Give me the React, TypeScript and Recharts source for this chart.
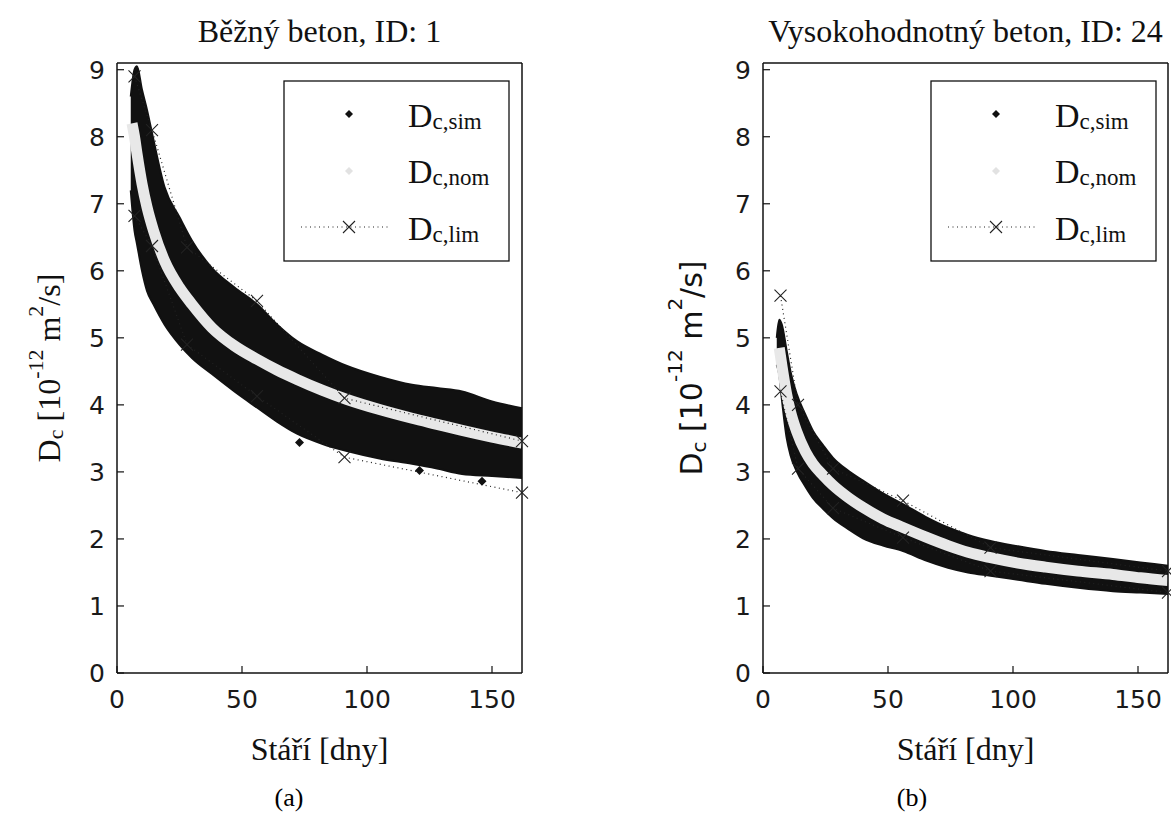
import React from "react";
import { ComposedChart, Area, Line, Scatter, XAxis, YAxis } from "recharts";

// shared axis setup
const xTicks = [0, 50, 100, 150];
const yTicks = [0, 1, 2, 3, 4, 5, 6, 7, 8, 9];
const limDays = [7, 14, 28, 56, 91, 162];

// (a) Běžný beton, ID: 1 — envelope of the simulated cloud, nominal curve, limits
const simDaysA = [5.5, 7, 8, 10, 12, 14.6, 19, 25, 30, 38, 47, 56, 64, 72, 82, 92, 105, 118, 128, 138, 150, 162];
const simHighA = [8.6, 9.0, 9.05, 8.7, 8.4, 7.95, 7.25, 6.8, 6.45, 6.04, 5.75, 5.5, 5.2, 4.95, 4.75, 4.58, 4.42, 4.3, 4.25, 4.2, 4.05, 3.95];
const simLowA = [7.2, 6.6, 6.4, 6.0, 5.7, 5.5, 5.2, 4.9, 4.7, 4.46, 4.2, 3.96, 3.75, 3.57, 3.42, 3.31, 3.2, 3.12, 3.05, 2.97, 2.94, 2.91];
const nomDaysA = [6, 7, 8, 10, 12, 14.6, 19, 25, 30, 38, 47, 56, 64, 72, 82, 92, 105, 118, 128, 138, 150, 162];
const nomA = [8.2, 8.0, 7.75, 7.3, 6.95, 6.6, 6.15, 5.75, 5.5, 5.15, 4.88, 4.68, 4.52, 4.38, 4.22, 4.08, 3.93, 3.8, 3.71, 3.62, 3.52, 3.43];
const limHighA = [8.9, 8.1, 6.35, 5.55, 4.1, 3.46];
const limLowA = [6.82, 6.37, 4.9, 4.13, 3.22, 2.69];
const outDaysA = [73, 121, 146];
const outValsA = [3.44, 3.02, 2.86];

// (b) Vysokohodnotný beton, ID: 24
const simDaysB = [5.5, 6.5, 7.5, 9.5, 11, 13.5, 17, 20, 24, 28, 34, 40, 48, 56, 65, 74, 82, 91, 102, 113, 126, 140, 151, 162];
const simHighB = [5.0, 5.27, 5.2, 4.8, 4.5, 4.16, 3.85, 3.61, 3.4, 3.21, 3.02, 2.87, 2.68, 2.52, 2.33, 2.17, 2.06, 1.97, 1.89, 1.82, 1.76, 1.7, 1.65, 1.6];
const simLowB = [4.6, 4.45, 4.1, 3.5, 3.25, 3.01, 2.78, 2.61, 2.45, 2.31, 2.15, 2.01, 1.9, 1.82, 1.68, 1.57, 1.5, 1.45, 1.39, 1.33, 1.27, 1.22, 1.2, 1.18];
const nomDaysB = [6.5, 7.5, 9.5, 11, 13.5, 17, 20, 24, 28, 34, 40, 48, 56, 65, 74, 82, 91, 102, 113, 126, 140, 151, 162];
const nomB = [4.85, 4.6, 4.15, 3.9, 3.6, 3.3, 3.12, 2.95, 2.8, 2.62, 2.47, 2.3, 2.17, 2.03, 1.9, 1.8, 1.72, 1.64, 1.58, 1.52, 1.47, 1.42, 1.38];
const limHighB = [5.63, 4.0, 3.05, 2.57, 1.87, 1.52];
const limLowB = [4.2, 3.05, 2.46, 2.02, 1.52, 1.2];

const SERIF = "'Liberation Serif', 'Times New Roman', serif";
const SANS = "'DejaVu Sans', sans-serif";
const INK = "#111";

function xMark(p: any) {
  const { cx, cy, index } = p;
  if (cx == null || cy == null) return <g key={`xm-${index}`} />;
  const s = 6;
  return (
    <path
      key={`xm-${index}`}
      d={`M${cx - s},${cy - s}L${cx + s},${cy + s}M${cx - s},${cy + s}L${cx + s},${cy - s}`}
      stroke="#222"
      strokeWidth={1.1}
      fill="none"
    />
  );
}

function diamond(p: any) {
  const { cx, cy } = p;
  const s = 4.5;
  return <path d={`M${cx},${cy - s}L${cx + s},${cy}L${cx},${cy + s}L${cx - s},${cy}Z`} fill={INK} />;
}

type PanelProps = {
  width: number;
  margin: { top: number; right: number; bottom: number; left: number };
  simDays: number[];
  simHigh: number[];
  simLow: number[];
  nomDays: number[];
  nom: number[];
  limHigh: number[];
  limLow: number[];
  outDays?: number[];
  outVals?: number[];
};

function Panel(props: PanelProps) {
  const { width, margin, simDays, simHigh, simLow, nomDays, nom, limHigh, limLow } = props;
  const band = simDays.map((d, i) => ({ day: d, v: [simLow[i], simHigh[i]] }));
  const nomData = nomDays.map((d, i) => ({ day: d, v: nom[i] }));
  const hiData = limDays.map((d, i) => ({ day: d, v: limHigh[i] }));
  const loData = limDays.map((d, i) => ({ day: d, v: limLow[i] }));
  const outData = (props.outDays || []).map((d, i) => ({ day: d, v: props.outVals![i] }));

  const tickStyle = { fontFamily: SANS, fontSize: 25, fill: "#1a1a1a" };
  const frame = { stroke: INK, strokeWidth: 1.5 };
  const tl = { stroke: INK, strokeWidth: 1.2 };

  return (
    <ComposedChart width={width} height={827} margin={margin}>
      <XAxis
        type="number"
        dataKey="day"
        domain={[0, 162]}
        ticks={xTicks}
        interval={0}
        height={1}
        tickSize={-7}
        tickMargin={24}
        axisLine={frame}
        tickLine={tl}
        tick={tickStyle}
      />
      <XAxis
        xAxisId="top"
        orientation="top"
        type="number"
        dataKey="day"
        domain={[0, 162]}
        ticks={xTicks}
        interval={0}
        height={1}
        tickSize={-7}
        axisLine={frame}
        tickLine={tl}
        tickFormatter={() => ""}
      />
      <YAxis
        type="number"
        domain={[0, 9.1]}
        ticks={yTicks}
        interval={0}
        width={1}
        tickSize={-7}
        tickMargin={19}
        axisLine={frame}
        tickLine={tl}
        tick={tickStyle}
      />
      <YAxis
        yAxisId="right"
        orientation="right"
        type="number"
        domain={[0, 9.1]}
        ticks={yTicks}
        interval={0}
        width={1}
        tickSize={-7}
        axisLine={frame}
        tickLine={tl}
        tickFormatter={() => ""}
      />

      {/* simulated cloud */}
      <Area
        data={band}
        dataKey="v"
        type="monotone"
        fill={INK}
        fillOpacity={1}
        stroke={INK}
        strokeWidth={2}
        isAnimationActive={false}
      />
      {/* nominal curve */}
      <Line
        data={nomData}
        dataKey="v"
        type="monotone"
        stroke="#e8e8e8"
        strokeWidth={11}
        dot={false}
        activeDot={false}
        isAnimationActive={false}
      />
      {/* limits */}
      <Line
        data={hiData}
        dataKey="v"
        type="linear"
        stroke="#222"
        strokeWidth={1.2}
        strokeDasharray="1 3.5"
        dot={xMark}
        activeDot={false}
        isAnimationActive={false}
      />
      <Line
        data={loData}
        dataKey="v"
        type="linear"
        stroke="#222"
        strokeWidth={1.2}
        strokeDasharray="1 3.5"
        dot={xMark}
        activeDot={false}
        isAnimationActive={false}
      />
      {outData.length > 0 && (
        <Scatter data={outData} dataKey="v" shape={diamond} isAnimationActive={false} />
      )}
    </ComposedChart>
  );
}

function LegendBox({ x, y }: { x: number; y: number }) {
  const mx = x + 65;
  const tx = x + 124;
  const rows = [
    { sub: "c,sim", baseline: y + 46, mark: y + 33 },
    { sub: "c,nom", baseline: y + 102, mark: y + 90 },
    { sub: "c,lim", baseline: y + 159, mark: y + 146 },
  ];
  const s = 4;
  return (
    <g>
      <rect x={x} y={y} width={225} height={180} fill="#fff" stroke={INK} strokeWidth={1.3} />
      <path d={`M${mx},${rows[0].mark - s}L${mx + s},${rows[0].mark}L${mx},${rows[0].mark + s}L${mx - s},${rows[0].mark}Z`} fill={INK} />
      <path d={`M${mx},${rows[1].mark - s}L${mx + s},${rows[1].mark}L${mx},${rows[1].mark + s}L${mx - s},${rows[1].mark}Z`} fill="#e2e2e2" />
      <line x1={x + 17} x2={x + 106} y1={rows[2].mark} y2={rows[2].mark} stroke="#222" strokeWidth={1.2} strokeDasharray="1 3.5" />
      {xMark({ cx: mx, cy: rows[2].mark, index: "legend" })}
      {rows.map((r) => (
        <text key={r.sub} x={tx} y={r.baseline} fontFamily={SERIF} fontSize={34} fill={INK}>
          D
          <tspan fontSize={23} dy={2}>
            {r.sub}
          </tspan>
        </text>
      ))}
    </g>
  );
}

export default function App() {
  return (
    <div style={{ position: "relative", width: 1171, height: 827, background: "#fff", overflow: "hidden" }}>
      <style>{"body{margin:0}"}</style>
      <div style={{ position: "absolute", left: 0, top: 0 }}>
        <Panel
          width={585}
          margin={{ top: 62, right: 62, bottom: 153, left: 116 }}
          simDays={simDaysA}
          simHigh={simHighA}
          simLow={simLowA}
          nomDays={nomDaysA}
          nom={nomA}
          limHigh={limHighA}
          limLow={limLowA}
          outDays={outDaysA}
          outVals={outValsA}
        />
      </div>
      <div style={{ position: "absolute", left: 585, top: 0 }}>
        <Panel
          width={586}
          margin={{ top: 62, right: 2, bottom: 153, left: 177 }}
          simDays={simDaysB}
          simHigh={simHighB}
          simLow={simLowB}
          nomDays={nomDaysB}
          nom={nomB}
          limHigh={limHighB}
          limLow={limLowB}
        />
      </div>

      <svg width={1171} height={827} style={{ position: "absolute", left: 0, top: 0, pointerEvents: "none" }}>
        {/* titles */}
        <text x={319.5} y={42} textAnchor="middle" fontFamily={SERIF} fontSize={32} fill={INK}>
          Běžný beton, ID: 1
        </text>
        <text x={965.5} y={42} textAnchor="middle" fontFamily={SERIF} fontSize={32} fill={INK}>
          Vysokohodnotný beton, ID: 24
        </text>

        <LegendBox x={284} y={81} />
        <LegendBox x={931} y={81} />

        {/* x labels */}
        <text x={319.5} y={760} textAnchor="middle" fontFamily={SERIF} fontSize={32} fill={INK}>
          Stáří [dny]
        </text>
        <text x={965.5} y={760} textAnchor="middle" fontFamily={SERIF} fontSize={32} fill={INK}>
          Stáří [dny]
        </text>

        {/* y labels */}
        <text x={60} y={368} transform="rotate(-90 60 368)" textAnchor="middle" fontFamily={SERIF} fontSize={32} fill={INK}>
          D<tspan fontSize={22} dy={3}>c</tspan>
          <tspan fontSize={32} dy={-3}> [10</tspan>
          <tspan fontSize={22} dy={-17}>-12</tspan>
          <tspan fontSize={32} dy={17}> m</tspan>
          <tspan fontSize={22} dy={-17}>2</tspan>
          <tspan fontSize={32} dy={17}>/s]</tspan>
        </text>
        <text x={702} y={368} transform="rotate(-90 702 368)" textAnchor="middle" fontFamily={SANS} fontSize={30} fill={INK}>
          D<tspan fontSize={20} dy={4}>c</tspan>
          <tspan fontSize={30} dy={-4}> [10</tspan>
          <tspan fontSize={20} dy={-20}>-12</tspan>
          <tspan fontSize={30} dy={20}> m</tspan>
          <tspan fontSize={20} dy={-20}>2</tspan>
          <tspan fontSize={30} dy={20}>/s]</tspan>
        </text>

        {/* captions */}
        <text x={289} y={806} textAnchor="middle" fontFamily={SERIF} fontSize={26} fill="#000">
          (a)
        </text>
        <text x={912} y={806} textAnchor="middle" fontFamily={SERIF} fontSize={26} fill="#000">
          (b)
        </text>
      </svg>
    </div>
  );
}
